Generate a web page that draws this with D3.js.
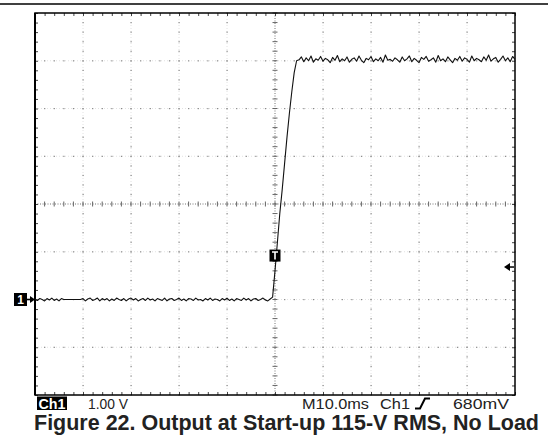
<!DOCTYPE html>
<html><head><meta charset="utf-8">
<script src="https://cdn.jsdelivr.net/npm/d3@7"></script>
<style>body{margin:0;background:#fff}svg{display:block}</style>
</head><body>
<script>
// ---- data ----
const sampleStepMs = 0.5;
const startMs = -50;
const baselineVolts = [
 0.01,-0.02,0.02,0.00,-0.03,0.02,-0.01,0.03,-0.02,0.01,-0.03,0.02,
 0,0,0,0,0,0,0,0,
 0.02,-0.03,0.01,0.03,-0.02,0.00,0.03,-0.03,0.02,-0.01,
 0.02,-0.03,0.01,-0.02,0.03,0.00,-0.02,0.02,-0.03,0.01,
 0.03,-0.01,0.02,-0.03,0.00,0.02,-0.02,0.03,-0.01,0.01,
 -0.03,0.02,0.00,-0.02,0.03,-0.03,0.01,0.02,-0.02,0.00,
 0.03,-0.02,0.01,-0.03,0.02,0.01,-0.02,0.03,-0.01,0.00,
 -0.03,0.02,-0.01,0.03,-0.02,0.01,0.00,-0.03,0.02,-0.01,
 0.03,-0.02,0.01,-0.03,0.02,0.00,-0.02,0.03,-0.01,0.02,
 -0.03,0.01,0.02,-0.02,0.00,0.03,-0.01,-0.03,0.01
];
const riseVolts = [0.05,0.6,1.2,1.8,2.3,2.85,3.4,3.9,4.35,4.75,5.0];
const plateauVolts = [
 5.02,5.08,4.98,5.06,5.00,5.10,4.97,5.04,5.01,5.09,
 4.99,5.05,5.02,4.96,5.07,5.01,5.11,4.98,5.04,5.00,
 5.08,4.97,5.03,5.06,4.99,5.10,5.01,4.96,5.05,5.02,
 5.09,4.98,5.04,5.00,5.07,4.97,5.12,5.01,5.03,4.99,
 5.06,5.02,4.97,5.08,5.00,5.04,5.10,4.98,5.05,5.01,
 4.96,5.07,5.03,5.09,4.99,5.02,5.06,4.97,5.11,5.00,
 5.04,4.98,5.08,5.02,4.96,5.05,5.01,5.09,4.99,5.06,
 5.03,4.97,5.10,5.00,5.05,5.02,4.98,5.08,5.01,5.12,
 4.99,5.04,5.07,4.97,5.03,5.10,5.00,5.06,4.98,5.09,
 5.03
];
const timeDomainMs = [-50, 50];
const voltDomain = [-2, 6];
const timeGridMs = [-40,-30,-20,-10,10,20,30,40];
const voltGrid = [-1,0,1,3,4,5];
const centerTime = 0, centerVolt = 2;
const triggerLevelV = 0.68;
const triggerMarkV = 0.92;
const statusLeft = ["Ch1", "1.00 V"];
const statusRight = ["M10.0ms", "Ch1", "680mV"];
const title = "Figure 22. Output at Start-up 115-V RMS, No Load";

const volts = baselineVolts.concat(riseVolts, plateauVolts);
const trace = volts.map((v,i)=>({t: startMs + i*sampleStepMs, v}));

// ---- drawing ----
const W = 548, H = 440;
const svg = d3.select("body").append("svg").attr("width",W).attr("height",H);
const L=35, R=515, T=13, B=395;
const x = d3.scaleLinear().domain(timeDomainMs).range([L,R]);
const y = d3.scaleLinear().domain(voltDomain).range([B,T]);

// top rule
svg.append("line").attr("x1",0).attr("x2",W).attr("y1",4).attr("y2",4)
  .attr("stroke","#000").attr("stroke-width",1.6);

const g = svg.append("g");
const minorT = d3.range(-50, 50.001, 2);
const minorV = d3.range(-2, 6.001, 0.2).map(d=>+d.toFixed(2));

timeGridMs.forEach(t=>{
  g.append("line").attr("x1",x(t)).attr("x2",x(t)).attr("y1",T).attr("y2",B)
   .attr("stroke","#e2e2e2").attr("stroke-dasharray","1,2");
  g.selectAll(null).data(minorV).enter().append("rect")
   .attr("x",x(t)-0.5).attr("y",d=>y(d)-0.5).attr("width",1.2).attr("height",1.2).attr("fill","#888");
});
voltGrid.forEach(v=>{
  g.append("line").attr("x1",L).attr("x2",R).attr("y1",y(v)).attr("y2",y(v))
   .attr("stroke","#e2e2e2").attr("stroke-dasharray","1,2");
  g.selectAll(null).data(minorT).enter().append("rect")
   .attr("x",d=>x(d)-0.5).attr("y",y(v)-0.5).attr("width",1.2).attr("height",1.2).attr("fill","#888");
});
g.append("line").attr("x1",x(centerTime)).attr("x2",x(centerTime)).attr("y1",T).attr("y2",B)
  .attr("stroke","#777").attr("stroke-dasharray","1,1.5");
g.append("line").attr("x1",L).attr("x2",R).attr("y1",y(centerVolt)).attr("y2",y(centerVolt))
  .attr("stroke","#777").attr("stroke-dasharray","1,1.5");
g.selectAll(null).data(minorV).enter().append("line")
  .attr("x1",x(centerTime)-2.5).attr("x2",x(centerTime)+2.5).attr("y1",d=>y(d)).attr("y2",d=>y(d))
  .attr("stroke","#666").attr("stroke-width",1);
g.selectAll(null).data(minorT).enter().append("line")
  .attr("y1",y(centerVolt)-2.5).attr("y2",y(centerVolt)+2.5).attr("x1",d=>x(d)).attr("x2",d=>x(d))
  .attr("stroke","#666").attr("stroke-width",1);

function tickAxis(axis, tr){
  const a = svg.append("g").attr("transform",tr).call(axis);
  a.select(".domain").remove();
  a.selectAll("text").remove();
  a.selectAll("line").attr("stroke","#444");
}
tickAxis(d3.axisBottom(x).tickValues(minorT).tickSize(3).tickFormat(""), `translate(0,${T})`);
tickAxis(d3.axisTop(x).tickValues(minorT).tickSize(3).tickFormat(""), `translate(0,${B})`);
tickAxis(d3.axisRight(y).tickValues(minorV).tickSize(3).tickFormat(""), `translate(${L},0)`);
tickAxis(d3.axisLeft(y).tickValues(minorV).tickSize(3).tickFormat(""), `translate(${R},0)`);

svg.append("rect").attr("x",L).attr("y",T).attr("width",R-L).attr("height",B-T)
  .attr("fill","none").attr("stroke","#000").attr("stroke-width",1.5);
svg.append("line").attr("x1",L).attr("x2",L).attr("y1",T).attr("y2",B).attr("stroke","#000").attr("stroke-width",2);

svg.append("path").datum(trace)
  .attr("d", d3.line().x(d=>x(d.t)).y(d=>y(d.v)))
  .attr("fill","none").attr("stroke","#111").attr("stroke-width",1.1).attr("stroke-linejoin","round");

const tx = x(centerTime), ty = y(triggerMarkV);
svg.append("rect").attr("x",tx-5.5).attr("y",ty-6).attr("width",11).attr("height",12).attr("fill","#000");
svg.append("path").attr("d",`M${tx-3},${ty-3.5}H${tx+3}M${tx},${ty-3.5}V${ty+4}`)
  .attr("stroke","#fff").attr("stroke-width",1.6);

const ay = y(triggerLevelV);
svg.append("path").attr("d",`M${R-11},${ay}L${R-5},${ay-4}L${R-5},${ay+4}Z`).attr("fill","#000");
svg.append("line").attr("x1",R-6).attr("x2",R-1).attr("y1",ay).attr("y2",ay).attr("stroke","#000").attr("stroke-width",1.5);

const gy = y(0);
svg.append("rect").attr("x",14).attr("y",gy-6.5).attr("width",13).attr("height",13).attr("fill","#000");
svg.append("text").attr("x",20.5).attr("y",gy+4.5).attr("text-anchor","middle")
  .attr("font-family","Liberation Sans, Arial, sans-serif").attr("font-weight","bold").attr("font-size",12)
  .attr("fill","#fff").text("1");
svg.append("line").attr("x1",27).attr("x2",31).attr("y1",gy).attr("y2",gy).attr("stroke","#000").attr("stroke-width",1.6);
svg.append("path").attr("d",`M${35},${gy}L${30},${gy-3.5}L${30},${gy+3.5}Z`).attr("fill","#000");

const sf = "Liberation Sans, Arial, sans-serif";
const sy = 408.5;
svg.append("rect").attr("x",37).attr("y",396.5).attr("width",30).attr("height",13.5).attr("fill","#000");
svg.append("text").attr("x",38.5).attr("y",sy).attr("font-family",sf).attr("font-weight","bold")
  .attr("font-size",14.5).attr("fill","#fff").attr("textLength",27).attr("lengthAdjust","spacingAndGlyphs").text(statusLeft[0]);
const st = (tx,s,len)=>svg.append("text").attr("x",tx).attr("y",sy).attr("font-family",sf)
  .attr("font-size",15).attr("fill","#222").attr("textLength",len).attr("lengthAdjust","spacingAndGlyphs").text(s);
st(88, statusLeft[1], 40);
st(302, statusRight[0], 67);
st(380, statusRight[1], 30);
st(453, statusRight[2], 56);
svg.append("path").attr("d",`M415,${sy}H420L425,${sy-10}H430`).attr("fill","none")
  .attr("stroke","#000").attr("stroke-width",2);

svg.append("text").attr("x",34).attr("y",430).attr("font-family",sf).attr("font-weight","bold")
  .attr("font-size",21.5).attr("fill","#222").attr("textLength",505).attr("lengthAdjust","spacingAndGlyphs").text(title);
</script>
</body></html>
